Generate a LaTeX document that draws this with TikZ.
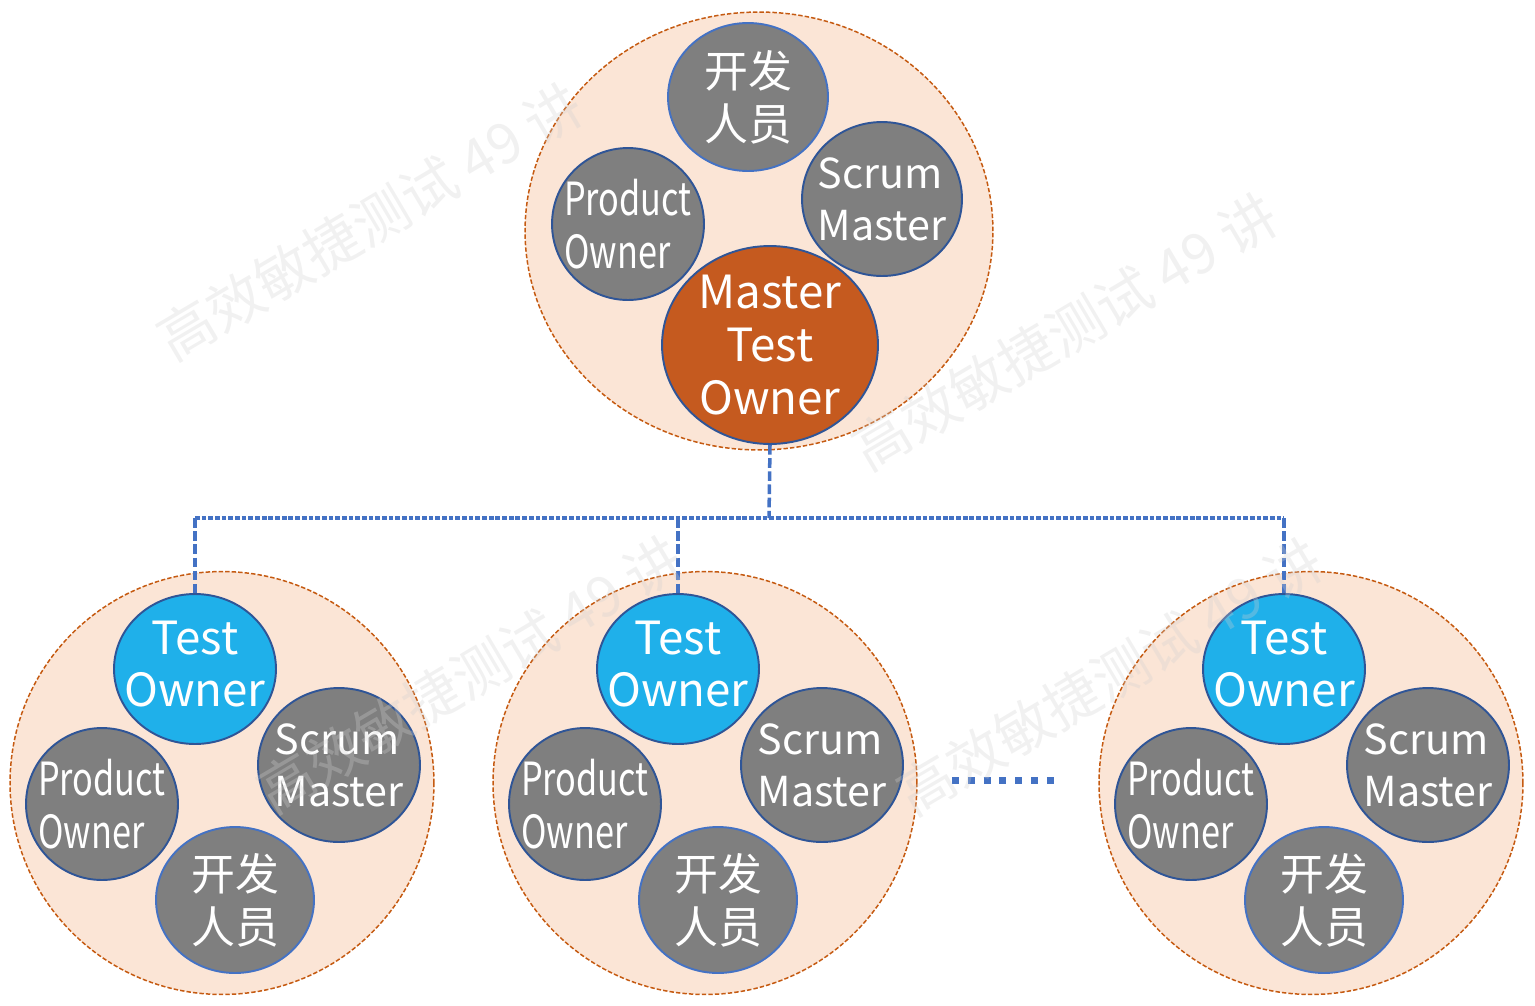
\documentclass[tikz,border=0pt]{standalone}
\usepackage{fontspec}
\setmainfont{Noto Sans CJK SC}
\newfontfamily\narrowfont[FakeStretch=0.75]{Noto Sans CJK SC}
\usetikzlibrary{shapes.geometric}

\definecolor{teamfill}{HTML}{FBE5D6}
\definecolor{teamline}{HTML}{C55A11}
\definecolor{rolegray}{HTML}{7F7F7F}
\definecolor{roleline}{HTML}{2F5597}
\definecolor{devline}{HTML}{4472C4}
\definecolor{mtofill}{HTML}{C55A1F}
\definecolor{tofill}{HTML}{1FB0EA}
\definecolor{linkblue}{HTML}{4472C4}

\tikzset{
  team/.style={ellipse, draw=teamline, fill=teamfill, line width=0.85pt,
    dash pattern=on 2.5pt off 1.2pt, inner sep=0pt},
  role/.style={ellipse, draw=roleline, line width=1.1pt, fill=rolegray,
    text=white, inner sep=-40pt, align=center,
    font=\fontsize{25}{30}\selectfont},
  devrole/.style={role, draw=devline},
  porole/.style={role, align=left, font=\narrowfont\fontsize{26}{30}\selectfont},
  smrole/.style={role, align=left, font=\fontsize{23.5}{29.5}\selectfont},
  vlink/.style={draw=linkblue, line width=2pt, dash pattern=on 5.5pt off 2pt},
  hlink/.style={draw=linkblue, line width=2pt, dash pattern=on 2.7pt off 1.1pt},
  etc/.style={draw=linkblue, line width=4pt, dash pattern=on 4pt off 5pt},
  wmark/.style={text=black!18, opacity=0.3, rotate=30.6,
    font=\fontsize{32}{32}\selectfont}
}

\begin{document}
\begin{tikzpicture}[x=0.02cm, y=-0.02cm]
  \useasboundingbox (0,0) rectangle (1535,1005);

  % top team
  \node[team, minimum width=9.36cm, minimum height=8.76cm] (team0) at (759,231) {};
  \node[devrole, minimum width=3.2cm, minimum height=2.96cm] (tdev) at (748,97) {开发\\人员};
  \node[porole, minimum width=3.04cm, minimum height=3.04cm] (tpo) at (628,224) {Product\\Owner};
  \node[smrole, minimum width=3.2cm, minimum height=3.08cm] (tsm) at (882,199) {Scrum\\Master};
  \node[role, fill=mtofill, minimum width=4.32cm, minimum height=3.96cm,
    font=\fontsize{26}{30}\selectfont] (mto) at (770,345) {Master\\Test\\Owner};

  % bottom teams
  \foreach \dx/\n in {0/1, 483/2, 1089/3} {
    \node[team, minimum width=8.48cm, minimum height=8.46cm] (team\n) at (222+\dx,783) {};
    \node[role, fill=tofill, minimum width=3.24cm, minimum height=3.0cm, text depth=6pt,
      font=\fontsize{26}{30}\selectfont] (to\n) at (195+\dx,669) {Test\\Owner};
    \node[smrole, minimum width=3.24cm, minimum height=3.08cm] (sm\n) at (339+\dx,765) {Scrum\\Master};
    \node[porole, minimum width=3.04cm, minimum height=3.04cm] (po\n) at (102+\dx,804) {Product\\Owner};
    \node[devrole, minimum width=3.16cm, minimum height=2.92cm] (dev\n) at (235+\dx,900) {开发\\人员};
  }

  % links
  \coordinate (bus) at (769,518);
  \draw[vlink] (mto.south) -- (bus);
  \draw[hlink] (to1.north |- bus) -- (to3.north |- bus);
  \foreach \n in {1,2,3}
    \draw[vlink] (to\n.north |- bus) -- (to\n.north);

  \coordinate (etcl) at (952,780);
  \coordinate (etcr) at (1056,780);
  \draw[etc] (etcl) -- (etcr);

  % watermark
  \node[wmark] (wm1) at (370,222) {高效敏捷测试 49 讲};
  \node[wmark] (wm2) at (1065,332) {高效敏捷测试 49 讲};
  \node[wmark] (wm3) at (470,675) {高效敏捷测试 49 讲};
  \node[wmark] (wm4) at (1110,677) {高效敏捷测试 49 讲};
\end{tikzpicture}
\end{document}
